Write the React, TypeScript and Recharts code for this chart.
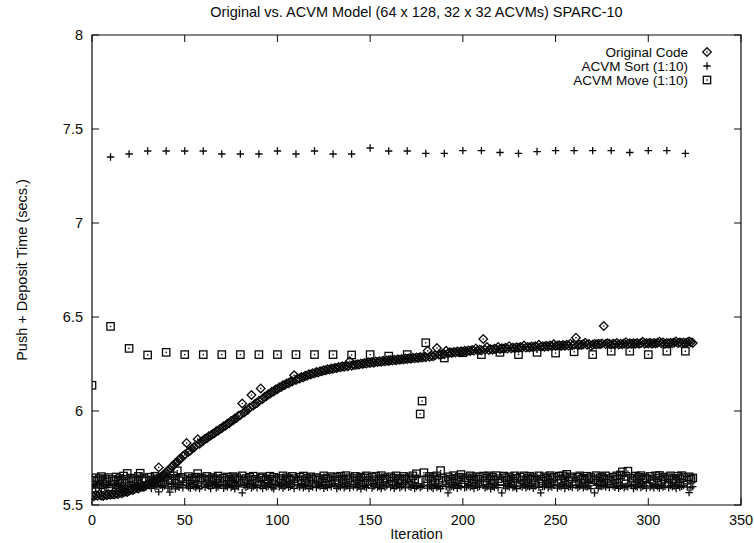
import { ScatterChart, Scatter, XAxis, YAxis, ReferenceArea, Legend } from "recharts";

// axis ticks
const X_TICKS = [0, 50, 100, 150, 200, 250, 300, 350];
const Y_TICKS = [5.5, 6, 6.5, 7, 7.5, 8];

// one value per iteration (0..324)
const ORIGINAL = [
  5.552, 5.547, 5.553, 5.549, 5.556, 5.551, 5.548, 5.555, 5.552, 5.557,
  5.554, 5.559, 5.556, 5.561, 5.558, 5.565, 5.562, 5.568, 5.571, 5.569,
  5.576, 5.581, 5.579, 5.586, 5.59, 5.588, 5.595, 5.6, 5.597, 5.605,
  5.61, 5.614, 5.62, 5.623, 5.63, 5.636, 5.7, 5.645, 5.656, 5.664,
  5.674, 5.683, 5.692, 5.704, 5.711, 5.723, 5.729, 5.742, 5.748, 5.76,
  5.767, 5.83, 5.783, 5.79, 5.801, 5.806, 5.817, 5.85, 5.826, 5.838,
  5.842, 5.852, 5.855, 5.866, 5.869, 5.878, 5.882, 5.892, 5.895, 5.905,
  5.908, 5.919, 5.922, 5.932, 5.935, 5.947, 5.949, 5.96, 5.963, 5.975,
  5.978, 6.04, 5.992, 6.003, 6.007, 6.018, 6.085, 6.029, 6.039, 6.042,
  6.054, 6.12, 6.064, 6.075, 6.078, 6.089, 6.091, 6.102, 6.104, 6.114,
  6.116, 6.126, 6.127, 6.137, 6.138, 6.147, 6.148, 6.156, 6.157, 6.19,
  6.165, 6.173, 6.173, 6.181, 6.18, 6.188, 6.187, 6.195, 6.194, 6.201,
  6.2, 6.207, 6.205, 6.212, 6.211, 6.217, 6.216, 6.222, 6.22, 6.226,
  6.224, 6.23, 6.228, 6.234, 6.232, 6.238, 6.235, 6.241, 6.238, 6.265,
  6.241, 6.246, 6.244, 6.249, 6.247, 6.252, 6.25, 6.255, 6.252, 6.258,
  6.255, 6.26, 6.257, 6.263, 6.26, 6.265, 6.262, 6.267, 6.264, 6.269,
  6.266, 6.271, 6.268, 6.273, 6.27, 6.275, 6.272, 6.277, 6.274, 6.279,
  6.276, 6.281, 6.278, 6.283, 6.28, 6.285, 6.282, 6.287, 6.284, 6.289,
  6.286, 6.32, 6.289, 6.294, 6.291, 6.297, 6.335, 6.3, 6.298, 6.305,
  6.302, 6.32, 6.306, 6.312, 6.309, 6.314, 6.311, 6.316, 6.313, 6.318,
  6.315, 6.32, 6.317, 6.322, 6.319, 6.324, 6.321, 6.333, 6.322, 6.326,
  6.323, 6.383, 6.325, 6.34, 6.324, 6.329, 6.326, 6.331, 6.328, 6.34,
  6.329, 6.334, 6.331, 6.336, 6.332, 6.345, 6.333, 6.337, 6.334, 6.339,
  6.335, 6.34, 6.336, 6.348, 6.337, 6.341, 6.338, 6.343, 6.339, 6.344,
  6.34, 6.352, 6.341, 6.345, 6.342, 6.347, 6.343, 6.348, 6.344, 6.355,
  6.345, 6.349, 6.35, 6.346, 6.351, 6.347, 6.352, 6.348, 6.358, 6.349,
  6.353, 6.39, 6.35, 6.354, 6.351, 6.355, 6.363, 6.352, 6.356, 6.345,
  6.353, 6.357, 6.354, 6.358, 6.355, 6.359, 6.452, 6.356, 6.36, 6.357,
  6.353, 6.358, 6.355, 6.362, 6.354, 6.358, 6.355, 6.359, 6.366, 6.356,
  6.36, 6.357, 6.361, 6.358, 6.362, 6.357, 6.361, 6.368, 6.358, 6.362,
  6.359, 6.363, 6.358, 6.362, 6.359, 6.363, 6.369, 6.36, 6.364, 6.358,
  6.362, 6.359, 6.363, 6.36, 6.364, 6.37, 6.361, 6.365, 6.36, 6.364,
  6.361, 6.365, 6.37, 6.366, 6.362,
];

const SORT = [
  5.598, 5.604, 5.591, 5.612, 5.596, 5.587, 5.606, 5.6, 5.593, 5.609,
  7.351, 5.595, 5.603, 5.588, 5.61, 5.599, 5.592, 5.605, 5.584, 5.601,
  7.367, 5.607, 5.594, 5.6, 5.589, 5.613, 5.597, 5.59, 5.604, 5.596,
  7.383, 5.602, 5.588, 5.608, 5.595, 5.599, 5.57, 5.606, 5.593, 5.601,
  7.383, 5.59, 5.568, 5.597, 5.611, 5.586, 5.6, 5.594, 5.607, 5.591,
  7.383, 5.603, 5.596, 5.589, 5.609, 5.598, 5.592, 5.604, 5.587, 5.6,
  7.383, 5.594, 5.606, 5.599, 5.588, 5.603, 5.61, 5.591, 5.597, 5.605,
  7.367, 5.589, 5.601, 5.596, 5.608, 5.593, 5.599, 5.586, 5.604, 5.597,
  7.367, 5.565, 5.603, 5.594, 5.6, 5.609, 5.59, 5.598, 5.605, 5.592,
  7.367, 5.601, 5.588, 5.606, 5.595, 5.599, 5.611, 5.593, 5.586, 5.603,
  7.383, 5.597, 5.604, 5.59, 5.6, 5.607, 5.594, 5.598, 5.609, 5.588,
  7.367, 5.602, 5.595, 5.606, 5.591, 5.599, 5.603, 5.587, 5.6, 5.596,
  7.383, 5.592, 5.605, 5.598, 5.61, 5.589, 5.601, 5.594, 5.606, 5.597,
  7.367, 5.603, 5.588, 5.6, 5.595, 5.608, 5.591, 5.599, 5.604, 5.59,
  7.367, 5.597, 5.607, 5.593, 5.601, 5.586, 5.603, 5.598, 5.592, 5.605,
  7.399, 5.59, 5.599, 5.608, 5.594, 5.6, 5.587, 5.604, 5.596, 5.602,
  7.383, 5.595, 5.603, 5.589, 5.6, 5.606, 5.592, 5.598, 5.609, 5.591,
  7.383, 5.6, 5.594, 5.605, 5.588, 5.597, 5.603, 5.592, 5.599, 5.606,
  7.37, 5.59, 5.601, 5.596, 5.588, 5.604, 5.593, 5.599, 5.587, 5.602,
  7.37, 5.598, 5.564, 5.591, 5.6, 5.595, 5.609, 5.589, 5.603, 5.597,
  7.385, 5.592, 5.596, 5.604, 5.596, 5.601, 5.588, 5.606, 5.594, 5.6,
  7.385, 5.603, 5.591, 5.597, 5.608, 5.586, 5.6, 5.594, 5.605, 5.592,
  7.375, 5.564, 5.604, 5.59, 5.601, 5.596, 5.607, 5.593, 5.598, 5.587,
  7.37, 5.602, 5.595, 5.606, 5.591, 5.6, 5.597, 5.604, 5.589, 5.601,
  7.38, 5.594, 5.565, 5.598, 5.598, 5.607, 5.592, 5.6, 5.595, 5.605,
  7.385, 5.59, 5.601, 5.597, 5.609, 5.588, 5.603, 5.596, 5.6, 5.593,
  7.385, 5.604, 5.592, 5.599, 5.606, 5.591, 5.6, 5.595, 5.602, 5.587,
  7.385, 5.564, 5.605, 5.59, 5.6, 5.598, 5.603, 5.596, 5.608, 5.593,
  7.385, 5.601, 5.594, 5.606, 5.589, 5.599, 5.604, 5.592, 5.6, 5.597,
  7.375, 5.603, 5.588, 5.6, 5.595, 5.607, 5.593, 5.599, 5.604, 5.59,
  7.385, 5.596, 5.602, 5.591, 5.606, 5.598, 5.589, 5.603, 5.595, 5.6,
  7.385, 5.592, 5.604, 5.597, 5.601, 5.588, 5.606, 5.594, 5.599, 5.603,
  7.37, 5.595, 5.566, 5.591, 5.598,
];

const MOVE = [
  6.137, 5.632, 5.645, 5.627, 5.64, 5.651, 5.63, 5.638, 5.624, 5.646,
  6.45, 5.636, 5.628, 5.649, 5.633, 5.641, 5.625, 5.654, 5.637, 5.668,
  6.333, 5.643, 5.63, 5.639, 5.626, 5.652, 5.669, 5.635, 5.644, 5.629,
  6.298, 5.648, 5.634, 5.627, 5.653, 5.64, 5.631, 5.645, 5.622, 5.65,
  6.312, 5.633, 5.642, 5.628, 5.655, 5.637, 5.682, 5.63, 5.647, 5.639,
  6.3, 5.626, 5.651, 5.634, 5.641, 5.629, 5.648, 5.667, 5.636, 5.644,
  6.3, 5.631, 5.652, 5.638, 5.625, 5.646, 5.633, 5.64, 5.654, 5.628,
  6.3, 5.643, 5.63, 5.649, 5.636, 5.624, 5.651, 5.639, 5.645, 5.632,
  6.3, 5.655, 5.627, 5.641, 5.634, 5.648, 5.63, 5.653, 5.637, 5.626,
  6.3, 5.644, 5.65, 5.632, 5.639, 5.625, 5.653, 5.636, 5.647, 5.629,
  6.3, 5.641, 5.634, 5.655, 5.627, 5.645, 5.638, 5.631, 5.652, 5.64,
  6.3, 5.628, 5.648, 5.635, 5.654, 5.63, 5.643, 5.626, 5.65, 5.637,
  6.3, 5.646, 5.632, 5.64, 5.625, 5.655, 5.638, 5.644, 5.629, 5.651,
  6.3, 5.634, 5.647, 5.627, 5.653, 5.639, 5.631, 5.656, 5.636, 5.645,
  6.298, 5.628, 5.652, 5.641, 5.633, 5.649, 5.626, 5.644, 5.655, 5.63,
  6.3, 5.647, 5.635, 5.653, 5.628, 5.64, 5.656, 5.632, 5.645, 5.637,
  6.292, 5.65, 5.627, 5.643, 5.655, 5.634, 5.641, 5.629, 5.652, 5.638,
  6.3, 5.645, 5.631, 5.655, 5.639, 5.666, 5.633, 5.984, 6.053, 5.672,
  6.363, 5.64, 5.652, 5.629, 5.646, 5.636, 5.655, 5.632, 5.683, 5.643,
  6.282, 5.63, 5.65, 5.638, 5.626, 5.656, 5.641, 5.634, 5.648, 5.662,
  6.31, 5.635, 5.645, 5.628, 5.655, 5.64, 5.632, 5.651, 5.637, 5.646,
  6.3, 5.654, 5.629, 5.643, 5.655, 5.636, 5.648, 5.631, 5.656, 5.64,
  6.312, 5.627, 5.654, 5.645, 5.633, 5.65, 5.638, 5.626, 5.655, 5.642,
  6.3, 5.648, 5.634, 5.655, 5.629, 5.641, 5.653, 5.636, 5.646, 5.631,
  6.312, 5.655, 5.638, 5.627, 5.65, 5.643, 5.633, 5.656, 5.64, 5.648,
  6.308, 5.63, 5.654, 5.637, 5.655, 5.645, 5.663, 5.632, 5.65, 5.641,
  6.315, 5.626, 5.648, 5.655, 5.636, 5.642, 5.631, 5.653, 5.639, 5.646,
  6.3, 5.634, 5.656, 5.628, 5.644, 5.65, 5.637, 5.655, 5.641, 5.63,
  6.318, 5.648, 5.635, 5.655, 5.64, 5.66, 5.676, 5.632, 5.652, 5.68,
  6.318, 5.643, 5.629, 5.654, 5.638, 5.647, 5.656, 5.633, 5.645, 5.64,
  6.3, 5.652, 5.636, 5.628, 5.655, 5.643, 5.657, 5.631, 5.649, 5.638,
  6.318, 5.645, 5.655, 5.634, 5.641, 5.627, 5.653, 5.639, 5.656, 5.646,
  6.318, 5.632, 5.65, 5.637, 5.644,
];

const toPoints = (vals: number[]) => vals.map((y, i) => ({ x: i, y }));

const FONT = '"Liberation Sans", Arial, Helvetica, sans-serif';
const INK = "#0a0a0a";
const W = 754;
const H = 543;
const PLOT_LEFT = 92;
const PLOT_RIGHT = 741;
const PLOT_TOP = 35;
const PLOT_BOTTOM = 505;
const TICK = 7;
const STROKE = 1.3;

function DiamondMark({ cx, cy }: any) {
  if (cx == null || cy == null) return null;
  const r = 4.3;
  return (
    <g>
      <path
        d={`M${cx},${cy - r}L${cx + r},${cy}L${cx},${cy + r}L${cx - r},${cy}Z`}
        fill="none"
        stroke={INK}
        strokeWidth={STROKE}
      />
      <rect x={cx - 0.7} y={cy - 0.7} width={1.4} height={1.4} fill={INK} />
    </g>
  );
}

function PlusMark({ cx, cy }: any) {
  if (cx == null || cy == null) return null;
  const r = 3.7;
  return (
    <path
      d={`M${cx - r},${cy}H${cx + r}M${cx},${cy - r}V${cy + r}`}
      stroke={INK}
      strokeWidth={STROKE}
      fill="none"
    />
  );
}

function SquareMark({ cx, cy }: any) {
  if (cx == null || cy == null) return null;
  const r = 3.7;
  return (
    <g>
      <rect x={cx - r} y={cy - r} width={2 * r} height={2 * r} fill="none" stroke={INK} strokeWidth={STROKE} />
      <rect x={cx - 0.7} y={cy - 0.7} width={1.4} height={1.4} fill={INK} />
    </g>
  );
}

const LEGEND_ROWS = [
  { name: "Original Code", Mark: DiamondMark },
  { name: "ACVM Sort (1:10)", Mark: PlusMark },
  { name: "ACVM Move (1:10)", Mark: SquareMark },
];

const LEGEND_STEP = 14;

function LegendBox() {
  return (
    <svg width={230} height={46} style={{ display: "block", overflow: "visible" }}>
      {LEGEND_ROWS.map((row, i) => (
        <g key={row.name}>
          <text
            x={188}
            y={7 + i * LEGEND_STEP}
            dy={4.5}
            textAnchor="end"
            fontFamily={FONT}
            fontSize={13.5}
            fill={INK}
          >
            {row.name}
          </text>
          <row.Mark cx={207} cy={7 + i * LEGEND_STEP} />
        </g>
      ))}
    </svg>
  );
}

function XTick({ x, payload }: any) {
  return (
    <g>
      <line x1={x} x2={x} y1={PLOT_BOTTOM} y2={PLOT_BOTTOM - TICK} stroke={INK} />
      <line x1={x} x2={x} y1={PLOT_TOP} y2={PLOT_TOP + TICK} stroke={INK} />
      <text x={x} y={PLOT_BOTTOM + 20} textAnchor="middle" fontFamily={FONT} fontSize={14.5} fill={INK}>
        {payload.value}
      </text>
    </g>
  );
}

function YTick({ y, payload }: any) {
  return (
    <g>
      <line x1={PLOT_LEFT} x2={PLOT_LEFT + TICK} y1={y} y2={y} stroke={INK} />
      <line x1={PLOT_RIGHT - TICK} x2={PLOT_RIGHT} y1={y} y2={y} stroke={INK} />
      <text x={PLOT_LEFT - 9} y={y} dy={5} textAnchor="end" fontFamily={FONT} fontSize={14.5} fill={INK}>
        {payload.value}
      </text>
    </g>
  );
}

export default function App() {
  return (
    <div style={{ position: "absolute", left: 0, top: 0, width: W, height: H, background: "#fff" }}>
      <div
        style={{
          position: "absolute",
          left: PLOT_LEFT,
          width: PLOT_RIGHT - PLOT_LEFT,
          top: 4,
          textAlign: "center",
          fontFamily: FONT,
          fontSize: 14.5,
          lineHeight: "17px",
          color: INK,
        }}
      >
        Original vs. ACVM Model (64 x 128, 32 x 32 ACVMs) SPARC-10
      </div>
      <ScatterChart
        width={W}
        height={H}
        margin={{ top: PLOT_TOP, right: W - PLOT_RIGHT, bottom: 0, left: 0 }}
      >
        <XAxis
          type="number"
          dataKey="x"
          domain={[0, 350]}
          ticks={X_TICKS}
          interval={0}
          axisLine={false}
          tickLine={false}
          tick={XTick}
          height={H - PLOT_BOTTOM}
          allowDataOverflow
          label={{
            content: () => (
              <text x={(PLOT_LEFT + PLOT_RIGHT) / 2} y={539} textAnchor="middle" fontFamily={FONT} fontSize={14.5} fill={INK}>
                Iteration
              </text>
            ),
          }}
        />
        <YAxis
          type="number"
          dataKey="y"
          domain={[5.5, 8]}
          ticks={Y_TICKS}
          interval={0}
          axisLine={false}
          tickLine={false}
          tick={YTick}
          width={PLOT_LEFT}
          allowDataOverflow
          label={{
            content: () => (
              <text
                x={22}
                y={270}
                transform="rotate(-90 22 270)"
                textAnchor="middle"
                dominantBaseline="central"
                fontFamily={FONT}
                fontSize={14.5}
                fill={INK}
              >
                Push + Deposit Time (secs.)
              </text>
            ),
          }}
        />
        <ReferenceArea x1={0} x2={350} y1={5.5} y2={8} fill="none" stroke={INK} strokeWidth={1.2} />
        <Legend
          layout="vertical"
          align="center"
          verticalAlign="middle"
          content={() => <LegendBox />}
          wrapperStyle={{ position: "absolute", left: 500, top: 45, width: 230, height: 46 }}
        />
        <Scatter name="Original Code" data={toPoints(ORIGINAL)} shape={DiamondMark} isAnimationActive={false} />
        <Scatter name="ACVM Sort (1:10)" data={toPoints(SORT)} shape={PlusMark} isAnimationActive={false} />
        <Scatter name="ACVM Move (1:10)" data={toPoints(MOVE)} shape={SquareMark} isAnimationActive={false} />
      </ScatterChart>
    </div>
  );
}
